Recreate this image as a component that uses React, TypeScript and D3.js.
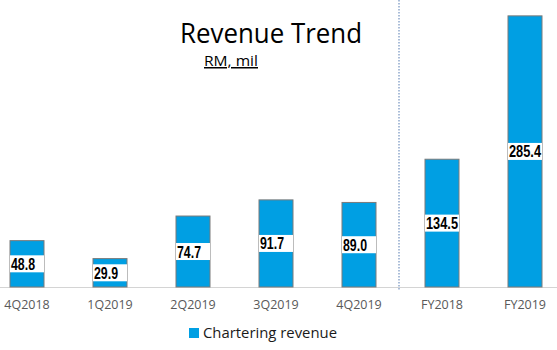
import React, { useEffect, useRef } from 'react';
import * as d3 from 'd3';

const categories = ['4Q2018', '1Q2019', '2Q2019', '3Q2019', '4Q2019', 'FY2018', 'FY2019'];
const revenue = [48.8, 29.9, 74.7, 91.7, 89.0, 134.5, 285.4];
const seriesName = 'Chartering revenue';

const App = () => {
    const svgRef = useRef(null);

    useEffect(() => {
        const width = 557;
        const height = 350;
        const baseline = 287;
        const barWidth = 34;
        const blue = '#009fe3';

        const svg = d3.select(svgRef.current)
            .attr('width', width)
            .attr('height', height);
        svg.selectAll('*').remove();

        const x = d3.scalePoint()
            .domain(categories)
            .range([27, 525]);

        const y = d3.scaleLinear()
            .domain([0, 300])
            .range([baseline, 2]);

        // title
        svg.append('text')
            .attr('x', 271)
            .attr('y', 43)
            .attr('text-anchor', 'middle')
            .attr('font-family', 'Open Sans, sans-serif')
            .attr('font-size', 27)
            .attr('textLength', 182)
            .attr('lengthAdjust', 'spacingAndGlyphs')
            .attr('fill', '#000')
            .text('Revenue Trend');

        svg.append('text')
            .attr('x', 231)
            .attr('y', 66)
            .attr('text-anchor', 'middle')
            .attr('font-family', 'Open Sans, sans-serif')
            .attr('font-size', 15)
            .attr('textLength', 54)
            .attr('lengthAdjust', 'spacingAndGlyphs')
            .attr('text-decoration', 'underline')
            .attr('fill', '#000')
            .text('RM, mil');

        // divider between quarters and full years
        svg.append('line')
            .attr('x1', 399).attr('x2', 399)
            .attr('y1', 0).attr('y2', 290)
            .attr('stroke', '#8fa8cc')
            .attr('stroke-width', 1.5)
            .attr('stroke-dasharray', '1.5,1.5');

        // baseline
        svg.append('line')
            .attr('x1', 0).attr('x2', width)
            .attr('y1', baseline + 0.5).attr('y2', baseline + 0.5)
            .attr('stroke', '#d4d4d4');

        const bars = svg.append('g');
        bars.selectAll('rect')
            .data(revenue)
            .enter()
            .append('rect')
            .attr('x', (d, i) => x(categories[i]) - barWidth / 2)
            .attr('y', d => y(d))
            .attr('width', barWidth)
            .attr('height', d => baseline - y(d))
            .attr('fill', blue)
            .attr('stroke', '#7a7a7a')
            .attr('stroke-width', 1);

        // value labels with white boxes
        const labels = svg.append('g');
        revenue.forEach((d, i) => {
            const bx = x(categories[i]) - barWidth / 2;
            const cy = (y(d) + baseline) / 2;
            labels.append('rect')
                .attr('x', bx)
                .attr('y', cy - 8.5)
                .attr('width', barWidth)
                .attr('height', 17)
                .attr('fill', '#fff');
            labels.append('text')
                .attr('x', bx + 1)
                .attr('y', cy + 6)
                .attr('font-family', 'Liberation Sans Narrow, Liberation Sans, Arial, sans-serif')
                .attr('font-weight', 'bold')
                .attr('font-size', 16)
                .attr('textLength', d >= 100 ? 32 : 24)
                .attr('lengthAdjust', 'spacingAndGlyphs')
                .attr('fill', '#000')
                .text(d.toFixed(1));
        });

        // category labels
        svg.append('g')
            .selectAll('text')
            .data(categories)
            .enter()
            .append('text')
            .attr('x', d => x(d))
            .attr('y', 309)
            .attr('text-anchor', 'middle')
            .attr('font-family', 'Open Sans, sans-serif')
            .attr('font-size', 12.5)
            .attr('fill', '#595959')
            .text(d => d);

        // legend
        const legend = svg.append('g').attr('transform', 'translate(189,328)');
        legend.append('rect')
            .attr('width', 10)
            .attr('height', 10)
            .attr('fill', blue);
        legend.append('text')
            .attr('x', 14)
            .attr('y', 9.5)
            .attr('font-family', 'Open Sans, sans-serif')
            .attr('font-size', 15)
            .attr('textLength', 134)
            .attr('lengthAdjust', 'spacingAndGlyphs')
            .attr('fill', '#1a1a1a')
            .text(seriesName);
    }, []);

    return (
        <svg ref={svgRef} style={{ position: 'absolute', left: 0, top: 0, background: '#fff' }}></svg>
    );
};

export default App;
